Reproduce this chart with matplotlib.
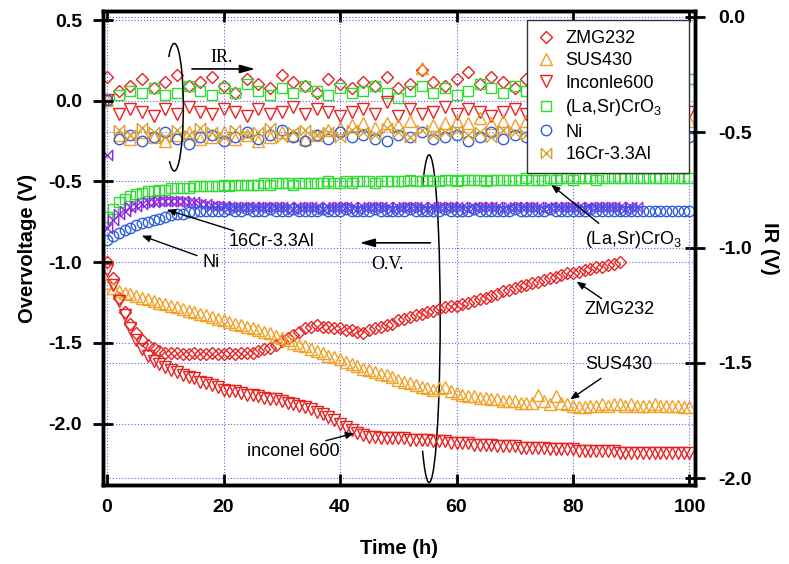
import numpy as np
import matplotlib
matplotlib.use('Agg')
import matplotlib.pyplot as plt
from matplotlib.patches import Arc

plt.rcParams['font.family'] = ['Liberation Sans', 'DejaVu Sans']
plt.rcParams['axes.unicode_minus'] = False
plt.rcParams['mathtext.default'] = 'regular'

# ---- overvoltage data (left axis), one point per hour ----
ov_zmg = [-1.00, -1.10, -1.22, -1.31, -1.38, -1.44, -1.48, -1.51, -1.53, -1.55,
          -1.56, -1.56, -1.56, -1.57, -1.57, -1.56, -1.57, -1.57, -1.56, -1.57,
          -1.57, -1.56, -1.57, -1.56, -1.56, -1.56, -1.55, -1.54, -1.53, -1.51,
          -1.49, -1.47, -1.45, -1.43, -1.41, -1.40, -1.39, -1.40, -1.40, -1.41,
          -1.41, -1.42, -1.42, -1.43, -1.44, -1.42, -1.41, -1.40, -1.39, -1.38,
          -1.36, -1.35, -1.34, -1.33, -1.32, -1.31, -1.30, -1.29, -1.28, -1.27,
          -1.27, -1.26, -1.25, -1.24, -1.23, -1.22, -1.21, -1.20, -1.18, -1.17,
          -1.16, -1.15, -1.14, -1.13, -1.12, -1.11, -1.10, -1.09, -1.08, -1.07,
          -1.07, -1.06, -1.05, -1.04, -1.03, -1.03, -1.02, -1.01, -1.00]
ov_sus = [-1.13, -1.16, -1.18, -1.19, -1.20, -1.21, -1.22, -1.23, -1.24, -1.25,
          -1.26, -1.27, -1.28, -1.29, -1.30, -1.31, -1.32, -1.33, -1.34, -1.35,
          -1.36, -1.37, -1.38, -1.39, -1.40, -1.41, -1.42, -1.43, -1.44, -1.46,
          -1.47, -1.48, -1.50, -1.51, -1.52, -1.54, -1.55, -1.56, -1.58, -1.59,
          -1.60, -1.62, -1.63, -1.64, -1.66, -1.67, -1.68, -1.69, -1.70, -1.71,
          -1.73, -1.74, -1.75, -1.76, -1.77, -1.78, -1.79, -1.78, -1.77, -1.80,
          -1.81, -1.82, -1.83, -1.83, -1.84, -1.84, -1.85, -1.85, -1.86, -1.86,
          -1.86, -1.87, -1.87, -1.87, -1.82, -1.86, -1.88, -1.83, -1.87, -1.88,
          -1.89, -1.90, -1.90, -1.89, -1.89, -1.88, -1.89, -1.88, -1.88, -1.89,
          -1.88, -1.89, -1.89, -1.89, -1.88, -1.89, -1.89, -1.89, -1.89, -1.90, -1.90]
ov_inc = [-1.05, -1.14, -1.24, -1.33, -1.41, -1.48, -1.54, -1.58, -1.61, -1.63,
          -1.65, -1.67, -1.68, -1.70, -1.71, -1.72, -1.74, -1.75, -1.76, -1.77,
          -1.79, -1.80, -1.80, -1.81, -1.82, -1.82, -1.83, -1.84, -1.85, -1.85,
          -1.86, -1.87, -1.88, -1.89, -1.90, -1.91, -1.93, -1.94, -1.96, -1.98,
          -2.00, -2.02, -2.04, -2.06, -2.07, -2.08, -2.08, -2.09, -2.09, -2.09,
          -2.09, -2.09, -2.10, -2.10, -2.10, -2.10, -2.11, -2.11, -2.11, -2.12,
          -2.12, -2.12, -2.12, -2.13, -2.13, -2.13, -2.13, -2.14, -2.14, -2.14,
          -2.14, -2.15, -2.15, -2.15, -2.15, -2.15, -2.16, -2.16, -2.16, -2.16,
          -2.16, -2.17, -2.17, -2.17, -2.17, -2.17, -2.17, -2.17, -2.18, -2.18,
          -2.18, -2.18, -2.18, -2.18, -2.18, -2.18, -2.18, -2.18, -2.18, -2.18, -2.18]
ov_lsc = [-0.72, -0.67, -0.63, -0.61, -0.59, -0.58, -0.57, -0.56, -0.56, -0.55,
          -0.55, -0.54, -0.54, -0.54, -0.54, -0.53, -0.53, -0.53, -0.53, -0.53,
          -0.52, -0.53, -0.52, -0.52, -0.52, -0.52, -0.52, -0.51, -0.52, -0.51,
          -0.51, -0.51, -0.52, -0.51, -0.51, -0.51, -0.51, -0.51, -0.50, -0.51,
          -0.51, -0.50, -0.51, -0.50, -0.50, -0.50, -0.51, -0.50, -0.50, -0.50,
          -0.50, -0.50, -0.49, -0.50, -0.50, -0.49, -0.50, -0.50, -0.49, -0.49,
          -0.50, -0.49, -0.49, -0.49, -0.49, -0.50, -0.49, -0.49, -0.49, -0.49,
          -0.49, -0.49, -0.48, -0.49, -0.49, -0.49, -0.48, -0.49, -0.48, -0.48,
          -0.49, -0.48, -0.48, -0.48, -0.49, -0.48, -0.48, -0.48, -0.48, -0.48,
          -0.48, -0.48, -0.48, -0.48, -0.48, -0.48, -0.48, -0.48, -0.48, -0.48, -0.48]
ov_ni = [-0.86, -0.84, -0.82, -0.80, -0.79, -0.77, -0.76, -0.75, -0.74, -0.73,
         -0.72, -0.71, -0.70, -0.70, -0.69, -0.69, -0.68, -0.68, -0.68, -0.68,
         -0.68, -0.67, -0.68, -0.68, -0.67, -0.68, -0.68, -0.68, -0.67, -0.68,
         -0.68, -0.68, -0.67, -0.68, -0.68, -0.68, -0.68, -0.67, -0.68, -0.68,
         -0.68, -0.67, -0.68, -0.68, -0.68, -0.68, -0.67, -0.68, -0.68, -0.68,
         -0.68, -0.68, -0.67, -0.68, -0.68, -0.68, -0.68, -0.68, -0.67, -0.68,
         -0.68, -0.68, -0.68, -0.67, -0.68, -0.68, -0.68, -0.68, -0.68, -0.68,
         -0.67, -0.68, -0.68, -0.68, -0.68, -0.68, -0.67, -0.68, -0.68, -0.68,
         -0.68, -0.68, -0.68, -0.67, -0.68, -0.68, -0.68, -0.68, -0.68, -0.68,
         -0.68, -0.68, -0.68, -0.68, -0.68, -0.68, -0.68, -0.68, -0.68, -0.68, -0.68]
ov_cr = [-0.79, -0.74, -0.70, -0.68, -0.66, -0.65, -0.64, -0.63, -0.63, -0.62,
         -0.62, -0.62, -0.62, -0.62, -0.63, -0.63, -0.64, -0.64, -0.65, -0.65,
         -0.65, -0.66, -0.66, -0.66, -0.66, -0.66, -0.66, -0.66, -0.66, -0.66,
         -0.66, -0.66, -0.67, -0.66, -0.66, -0.66, -0.66, -0.67, -0.66, -0.66,
         -0.66, -0.66, -0.66, -0.67, -0.66, -0.66, -0.66, -0.66, -0.66, -0.67,
         -0.66, -0.66, -0.66, -0.66, -0.66, -0.67, -0.66, -0.66, -0.66, -0.66,
         -0.66, -0.66, -0.67, -0.66, -0.66, -0.66, -0.66, -0.66, -0.67, -0.66,
         -0.66, -0.66, -0.66, -0.66, -0.66, -0.67, -0.66, -0.66, -0.66, -0.66,
         -0.66, -0.66, -0.67, -0.66, -0.66, -0.66, -0.66, -0.66, -0.66, -0.67,
         -0.66, -0.66]

# ---- IR data (right axis), one point every 2 h ----
ir_zmg = [-0.26, -0.32, -0.30, -0.27, -0.31, -0.28, -0.25, -0.30, -0.28, -0.26,
          -0.30, -0.33, -0.27, -0.29, -0.31, -0.25, -0.28, -0.30, -0.33, -0.27,
          -0.29, -0.31, -0.28, -0.30, -0.26, -0.31, -0.29, -0.23, -0.28, -0.30,
          -0.27, -0.24, -0.29, -0.26, -0.28, -0.31, -0.27, -0.25, -0.29, -0.26,
          -0.28, -0.30, -0.27, -0.29, -0.28]
ir_lsc = [-0.36, -0.34, -0.32, -0.33, -0.31, -0.34, -0.33, -0.30, -0.32, -0.34,
          -0.31, -0.33, -0.29, -0.32, -0.34, -0.31, -0.33, -0.30, -0.32, -0.34,
          -0.31, -0.33, -0.32, -0.30, -0.33, -0.35, -0.32, -0.30, -0.33, -0.31,
          -0.34, -0.32, -0.29, -0.31, -0.33, -0.30, -0.32, -0.28, -0.31, -0.33,
          -0.30, -0.29, -0.31, -0.28, -0.30, -0.27, -0.29, -0.28, -0.26, -0.28, -0.27]
ir_inc = [-0.36, -0.42, -0.40, -0.41, -0.43, -0.40, -0.42, -0.39, -0.41, -0.42,
          -0.40, -0.41, -0.43, -0.40, -0.42, -0.41, -0.39, -0.42, -0.40, -0.41,
          -0.43, -0.41, -0.40, -0.42, -0.37, -0.43, -0.40, -0.42, -0.41, -0.39,
          -0.42, -0.40, -0.41, -0.43, -0.41, -0.40, -0.42, -0.41, -0.40, -0.42,
          -0.41, -0.40, -0.42, -0.41, -0.40, -0.41, -0.42, -0.40, -0.41, -0.40, -0.41]
ir_sus = [-0.36, -0.51, -0.53, -0.50, -0.52, -0.54, -0.51, -0.50, -0.53, -0.52,
          -0.50, -0.53, -0.51, -0.54, -0.52, -0.50, -0.51, -0.53, -0.51, -0.49,
          -0.48, -0.47, -0.46, -0.48, -0.46, -0.47, -0.45, -0.22, -0.47, -0.46,
          -0.45, -0.46, -0.44, -0.46, -0.45, -0.47, -0.45, -0.44, -0.46, -0.45,
          -0.44, -0.46, -0.45, -0.44, -0.45, -0.46, -0.44, -0.45, -0.44, -0.45, -0.45]
ir_ni = [-0.36, -0.53, -0.51, -0.54, -0.52, -0.50, -0.53, -0.55, -0.52, -0.51,
         -0.54, -0.52, -0.50, -0.53, -0.51, -0.49, -0.52, -0.54, -0.51, -0.53,
         -0.50, -0.52, -0.51, -0.53, -0.54, -0.51, -0.52, -0.50, -0.53, -0.52,
         -0.51, -0.54, -0.52, -0.50, -0.53, -0.51, -0.52, -0.54, -0.51, -0.50,
         -0.52, -0.53, -0.51, -0.52, -0.50, -0.53, -0.51, -0.52, -0.50, -0.51, -0.52]
ir_cr = [-0.60, -0.49, -0.51, -0.48, -0.50, -0.52, -0.49, -0.51, -0.48, -0.50,
         -0.52, -0.49, -0.51, -0.50, -0.48, -0.52, -0.50, -0.49, -0.51, -0.50,
         -0.52, -0.49, -0.50, -0.51, -0.48, -0.50, -0.52, -0.49, -0.51, -0.50,
         -0.49, -0.51, -0.50, -0.52, -0.49, -0.50, -0.51, -0.48, -0.50, -0.52,
         -0.49, -0.51, -0.50, -0.49, -0.51, -0.50, -0.49]

labels = ['ZMG232', 'SUS430', 'Inconle600', '(La,Sr)CrO$_3$', 'Ni', '16Cr-3.3Al']

red = '#e82222'
orange = '#f2a127'
green = '#2fdc2f'
blue = '#2f5fe0'
purple = '#8a2be0'
gold = '#d8a030'
bowtie = [(-1, 1), (-1, -1), (1, 1), (1, -1), (-1, 1)]


def hours(v, step):
    return np.arange(len(v)) * step


fig = plt.figure(figsize=(7.89, 5.64), dpi=100)
ax = fig.add_axes([0.1305, 0.1401, 0.750, 0.8404])
ax2 = ax.twinx()
ax.set_zorder(ax2.get_zorder() + 1)
ax.patch.set_visible(False)

kw = dict(linestyle='none', markerfacecolor='none', markeredgewidth=1.0)

# IR (right axis)
h_zmg = ax2.plot(hours(ir_zmg, 2), ir_zmg, marker='D', ms=6.2, color=red, **kw)
h_lsc = ax2.plot(hours(ir_lsc, 2), ir_lsc, marker='s', ms=7.5, color=green, **kw)
h_inc = ax2.plot(hours(ir_inc, 2), ir_inc, marker='v', ms=8, color=red, **kw)
h_sus = ax2.plot(hours(ir_sus, 2), ir_sus, marker='^', ms=8, color=orange, **kw)
h_ni = ax2.plot(hours(ir_ni, 2), ir_ni, marker='o', ms=7.5, color=blue, **kw)
h_cr = ax2.plot(hours(ir_cr, 2)[1:], ir_cr[1:], marker=bowtie, ms=7.5, color=gold, **kw)
ax2.plot(hours(ir_cr, 2)[:1], ir_cr[:1], marker=bowtie, ms=7.5, color=purple, **kw)
h = [h_zmg[0], h_sus[0], h_inc[0], h_lsc[0], h_ni[0], h_cr[0]]

# overvoltage (left axis)
ax.plot(hours(ov_zmg, 1), ov_zmg, marker='D', ms=6.2, color=red, **kw)
ax.plot(hours(ov_sus, 1), ov_sus, marker='^', ms=8.5, color=orange, **kw)
ax.plot(hours(ov_inc, 1), ov_inc, marker='v', ms=9, color=red, **kw)
ax.plot(hours(ov_lsc, 1), ov_lsc, marker='s', ms=7.5, color=green, **kw)
ax.plot(hours(ov_cr, 1), ov_cr, marker=bowtie, ms=7.5, color=purple, **kw)
ax.plot(hours(ov_ni, 1), ov_ni, marker='o', ms=7.5, color=blue, **kw)

ax.set_xlim(-0.7, 100.9)
ax.set_ylim(-2.38, 0.556)
ax2.set_ylim(-2.03, 0.026)
ax.set_xticks([0, 20, 40, 60, 80, 100])
ax.set_yticks([0.5, 0.0, -0.5, -1.0, -1.5, -2.0])
ax2.set_yticks([0.0, -0.5, -1.0, -1.5, -2.0])
ax.set_yticklabels(['%.1f' % v for v in ax.get_yticks()])
ax2.set_yticklabels(['%.1f' % v for v in ax2.get_yticks()])

gkw = dict(color='#6060e0', linestyle=(0, (1, 1.8)), linewidth=0.8)
ax.grid(True, **gkw)
ax2.grid(True, axis='y', **gkw)
ax.set_axisbelow(True)

ax.tick_params(axis='x', direction='in', length=8, width=2, labelsize=14, pad=10,
               top=True)
ax.tick_params(axis='y', direction='inout', length=14, width=2, labelsize=14, pad=8,
               right=False)
ax2.tick_params(axis='y', direction='inout', length=14, width=2, labelsize=14, pad=10)
for lab in ax.get_xticklabels() + ax.get_yticklabels() + ax2.get_yticklabels():
    lab.set_fontweight('bold')
for a in (ax, ax2):
    for s in a.spines.values():
        s.set_linewidth(2.5)

ax.set_xlabel('Time (h)', fontsize=14.5, fontweight='bold', va='center')
ax.xaxis.set_label_coords(0.5, -0.135)
ax.set_ylabel('Overvoltage (V)', fontsize=14.5, fontweight='bold', va='center')
ax.yaxis.set_label_coords(-0.127, 0.5)
ax2.set_ylabel('IR (V)', fontsize=14.5, fontweight='bold', rotation=270, va='center')
ax2.yaxis.set_label_coords(1.127, 0.5)

# annotations
akw = dict(arrowstyle='-|>,head_length=0.5,head_width=0.2', color='k', lw=1)
notes = [
    ('16Cr-3.3Al', (28.3, -0.87), (22.2, -0.81), (9.8, -0.67)),
    ('Ni', (17.9, -1.0), (15.9, -0.965), (5.5, -0.83)),
    ('(La,Sr)CrO$_3$', (90.3, -0.86), (84.8, -0.77), (75.9, -0.51)),
    ('ZMG232', (87.9, -1.295), (85.3, -1.235), (80.2, -1.11)),
    ('SUS430', (87.9, -1.635), (85.2, -1.71), (79.1, -1.86)),
    ('inconel 600', (31.9, -2.17), (37.1, -2.11), (42.9, -2.055)),
]
for txt, pos, tail, tip in notes:
    ax.text(pos[0], pos[1], txt, fontsize=13, ha='center', va='center')
    ax.annotate('', xy=tip, xytext=tail, arrowprops=akw)

bkw = dict(arrowstyle='-|>,head_length=0.9,head_width=0.25', color='k', lw=1.2)
ax.annotate('', xy=(25.9, 0.197), xytext=(14.1, 0.197), arrowprops=bkw)
ax.text(19.7, 0.27, 'IR.', fontsize=13, family='Liberation Serif',
        ha='center', va='center')
ax.annotate('', xy=(42.9, -0.88), xytext=(56.0, -0.88), arrowprops=bkw)
ax.text(48.1, -1.016, 'O.V.', fontsize=13, family='Liberation Serif',
        ha='center', va='center')

ax.add_patch(Arc((11.55, -0.04), 3.1, 0.79, theta1=-158, theta2=162,
                 color='k', lw=1.1))
ax.add_patch(Arc((55.3, -1.35), 3.8, 2.03, theta1=-144, theta2=144,
                 color='k', lw=1.1))

leg = ax.legend(h, labels, loc='upper left', bbox_to_anchor=(0.716, 0.5, 0.275, 0.481),
                mode='expand', borderaxespad=0, fontsize=13, handlelength=1.0,
                handletextpad=0.6, borderpad=0.55, labelspacing=0.3,
                fancybox=False, framealpha=1)
leg.get_frame().set_edgecolor('#333333')
leg.get_frame().set_linewidth(1.0)

fig.savefig('out.png', dpi=100)
